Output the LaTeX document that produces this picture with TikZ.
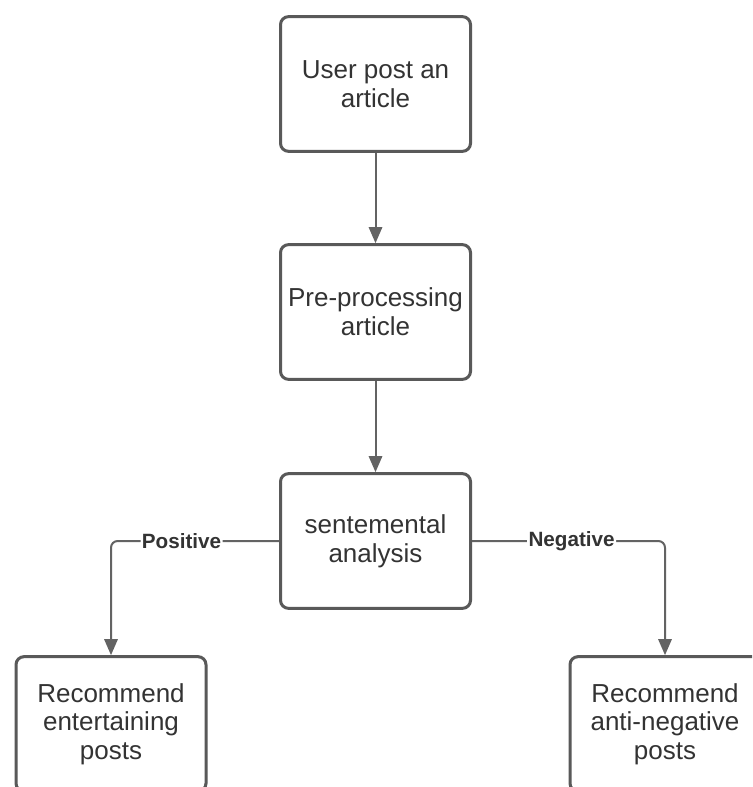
\documentclass[tikz,border=0pt]{standalone}
\usepackage{fontspec}
\setmainfont{Liberation Sans}
\usetikzlibrary{arrows.meta}
\definecolor{boxgray}{HTML}{595959}
\definecolor{linegray}{HTML}{636363}
\definecolor{txtgray}{HTML}{333333}

\begin{document}
\begin{tikzpicture}[x=0.75pt,y=-0.75pt,
    stage/.style={draw=boxgray,line width=2.25pt,rounded corners=6pt,inner sep=2pt,
        minimum width=142.5pt,minimum height=101pt,align=center,text=txtgray,
        font=\fontsize{19.5}{21.5}\selectfont},
    flow/.style={draw=linegray,line width=1.5pt,-{Triangle[width=10pt,length=12pt]}},
    tag/.style={fill=white,text=txtgray,inner sep=1pt,font=\bfseries\fontsize{15.5}{17}\selectfont}]
    \useasboundingbox (0,0) rectangle (752,787);
    \fill[white] (0,0) rectangle (752,787);
    \clip (0,0) rectangle (752,787);
    % boxes
    \node[stage] (post) at (375.5,84) {User post an\\article};
    \node[stage] (prep) at (375.5,312) {Pre-processing\\article};
    \node[stage] (sent) at (375.5,541) {sentemental\\analysis};
    \node[stage] (ent) at (111,724) {Recommend\\entertaining\\posts};
    \node[stage] (anti) at (665,724) {Recommend\\anti-negative\\posts};
    % arrows
    \draw[flow] (post) -- (prep);
    \draw[flow] (prep) -- (sent);
    \draw[flow,rounded corners=5pt] (sent.west) -| node[tag,pos=0.29] {Positive} (ent.north);
    \draw[flow,rounded corners=5pt] (sent.east) -| node[tag,pos=0.258] {Negative} (anti.north);
\end{tikzpicture}
\end{document}
